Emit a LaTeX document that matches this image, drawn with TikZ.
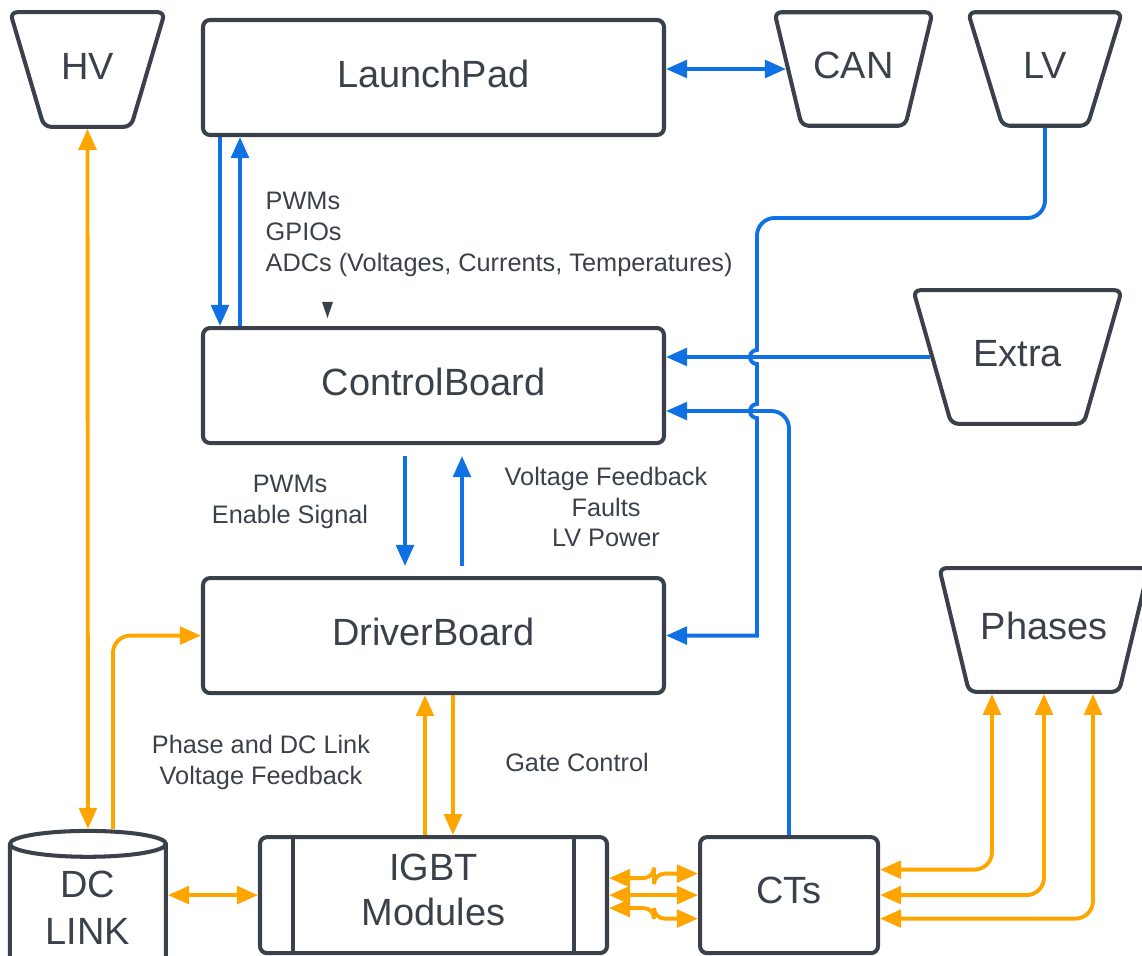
\documentclass[tikz,border=0pt]{standalone}
\usepackage{fontspec}
\setmainfont{Liberation Sans}
\usepackage{tikz}
\usetikzlibrary{shapes.geometric, arrows.meta, positioning}

\definecolor{darkline}{HTML}{3A414A}
\definecolor{lcblue}{HTML}{1071E5}
\definecolor{lcorange}{HTML}{FFA500}

\begin{document}
\begin{tikzpicture}[
    >={Triangle[length=6pt, width=5pt]},
    box/.style={rectangle, draw=darkline, line width=1.15pt, rounded corners=2pt, minimum width=4.61cm, minimum height=1.15cm, text depth=2.4pt, align=center, text=darkline, font=\fontsize{10.8}{13}\selectfont},
    port/.style={trapezium, trapezium left angle=103.5, trapezium right angle=103.5, trapezium stretches=true, text height=8pt, text depth=2.5pt, draw=darkline, line width=1.15pt, rounded corners=2pt, text=darkline, font=\fontsize{10.8}{13}\selectfont},
    module/.style={box, minimum width=3.47cm, minimum height=1.16cm, text depth=3pt},
    tank/.style={cylinder, shape border rotate=90, aspect=0.24, draw=darkline, line width=1.15pt, minimum width=1.56cm, minimum height=1.32cm, text depth=5pt, align=center, text=darkline, font=\fontsize{10.8}{13.4}\selectfont},
    lbl/.style={align=center, text=darkline, inner sep=0pt, font=\fontsize{7.2}{8.8}\selectfont},
    blueline/.style={draw=lcblue, line width=1.1pt},
    orangeline/.style={draw=lcorange, line width=1.1pt},
]
    \useasboundingbox (0,0) rectangle (11.42,-9.56);

    % Boards
    \node[box] (launchpad) at (4.335,-0.775) {LaunchPad};
    \node[box, below=1.89cm of launchpad] (controlboard) {ControlBoard};
    \node[box, below=1.31cm of controlboard] (driverboard) {DriverBoard};

    % Power stage
    \node[module, below=1.40cm of driverboard] (igbt) {IGBT\\Modules};
    \draw[darkline, line width=1.15pt] ([xshift=0.35cm]igbt.north west) -- ([xshift=0.35cm]igbt.south west);
    \draw[darkline, line width=1.15pt] ([xshift=-0.35cm]igbt.north east) -- ([xshift=-0.35cm]igbt.south east);
    \node[module, minimum width=1.78cm, right=0.89cm of igbt] (cts) {CTs};
    \node[tank, left=0.90cm of igbt, yshift=-0.21cm] (dclink) {DC\\LINK};

    % Sources and sinks
    \node[port, trapezium left angle=104.5, trapezium right angle=104.5, minimum width=1.55cm, inner ysep=11.05pt] (hv) at (0.875,-0.695) {HV};
    \node[port, minimum width=1.53cm, inner ysep=10.9pt] (can) at (8.535,-0.69) {CAN};
    \node[port, minimum width=1.54cm, inner ysep=10.9pt] (lv) at (10.45,-0.69) {LV};
    \node[port, minimum width=2.09cm, inner ysep=13.75pt] (extra) at (10.175,-3.57) {Extra};
    \node[port, minimum width=1.94cm, inner ysep=12.35pt] (phases) at (10.44,-6.30) {Phases};

    % Labels
    \node[lbl, align=left, anchor=west] (lptext) at (2.65,-2.34) {PWMs\\GPIOs\\ADCs (Voltages, Currents, Temperatures)};
    \node[lbl] (cbdown) at (2.90,-5.02) {PWMs\\Enable Signal};
    \node[lbl] (cbup) at (6.06,-5.07) {Voltage Feedback\\Faults\\LV Power};
    \node[lbl] (fbtext) at (2.61,-7.625) {Phase and DC Link\\Voltage Feedback};
    \node[lbl] (gatetext) at (5.77,-7.62) {Gate Control};
    \fill[darkline] (3.22,-3.02) -- (3.33,-3.02) -- (3.275,-3.18) -- cycle;

    % Blue arrows
    \coordinate (lvbus) at (7.57,-2.18);
    \coordinate (ctsfb) at ([yshift=-0.255cm]controlboard.east);
    \draw[blueline, <->] (launchpad.east |- can.180) -- (can.180);
    \draw[blueline, ->] ([xshift=0.19cm]launchpad.south west) -- ([xshift=0.19cm]controlboard.north west);
    \draw[blueline, <-] ([xshift=0.39cm]launchpad.south west) -- ([xshift=0.39cm]controlboard.north west);
    \draw[blueline, ->, shorten <=0.11cm, shorten >=0.1cm] ([xshift=-0.285cm]controlboard.south) -- ([xshift=-0.285cm]driverboard.north);
    \draw[blueline, <-, shorten <=0.11cm, shorten >=0.1cm] ([xshift=0.285cm]controlboard.south) -- ([xshift=0.285cm]driverboard.north);
    \draw[blueline, ->] (extra.180) -- (controlboard.east |- extra.180);
    \draw[blueline, ->, rounded corners=5pt] (cts.north) |- (ctsfb);
    \draw[blueline, ->] (lv.270) [rounded corners=5pt] |- (lvbus) [sharp corners] -- ([yshift=0.07cm]lvbus |- extra.180)
        arc[start angle=90, end angle=270, radius=0.07cm] -- ([yshift=0.07cm]lvbus |- ctsfb)
        arc[start angle=90, end angle=270, radius=0.07cm] -- (lvbus |- driverboard.east) [rounded corners=5pt] -- (driverboard.east);

    % Orange arrows
    \draw[orangeline, <->] (hv.270) -- (dclink.90);
    \draw[orangeline, ->, rounded corners=5pt] ([xshift=0.25cm]dclink.90) |- (driverboard.west);
    \draw[orangeline, <->] (igbt.west -| dclink.0) -- (igbt.west);
    \draw[orangeline, <-] ([xshift=-0.085cm]driverboard.south) -- ([xshift=-0.085cm]igbt.north);
    \draw[orangeline, ->] ([xshift=0.195cm]driverboard.south) -- ([xshift=0.195cm]igbt.north);
    \draw[orangeline, <->, rounded corners=3pt] ([yshift=0.17cm]igbt.east) -- ++(0.45,0) |- ([yshift=0.215cm]cts.west);
    \draw[orangeline, <->] (igbt.east) -- (igbt.east -| cts.west);
    \draw[orangeline, <->, rounded corners=3pt] ([yshift=-0.13cm]igbt.east) -- ++(0.45,0) |- ([yshift=-0.235cm]cts.west);
    \draw[orangeline, <->, rounded corners=5pt] ([yshift=0.255cm]cts.east) -| ([xshift=-0.52cm]phases.270);
    \draw[orangeline, <->, rounded corners=5pt] (cts.east) -| (phases.270);
    \draw[orangeline, <->, rounded corners=5pt] ([yshift=-0.235cm]cts.east) -| ([xshift=0.49cm]phases.270);
\end{tikzpicture}
\end{document}
